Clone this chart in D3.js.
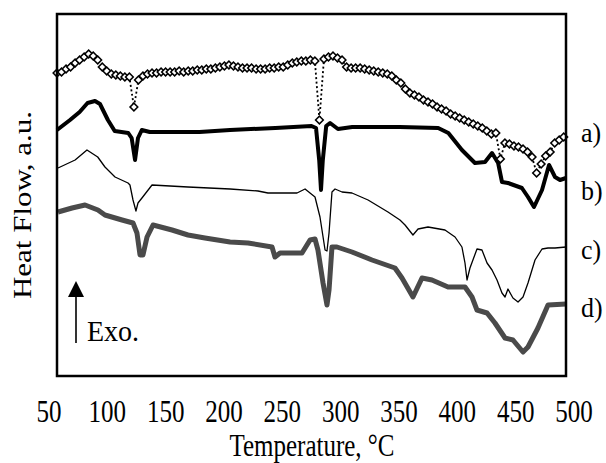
<!DOCTYPE html>
<html>
<head>
<meta charset="utf-8">
<script src="https://cdn.jsdelivr.net/npm/d3@7"></script>
<style>
  body { margin: 0; background: #fff; }
  svg { display: block; }
  text { font-family: "Liberation Serif", "Times New Roman", serif; fill: #000; }
</style>
</head>
<body>
<svg id="chart" width="606" height="463"></svg>
<script>
// a) sampled with markers every 4 degrees
const tempA = [50, 54, 58, 62, 66, 70, 74, 78, 82, 86, 90, 94, 98, 102, 106, 110, 114, 118, 122, 126,
  130, 134, 138, 142, 146, 150, 154, 158, 162, 166, 170, 174, 178, 182, 186, 190, 194, 198, 202, 206,
  210, 214, 218, 222, 226, 230, 234, 238, 242, 246, 250, 254, 258, 262, 266, 270, 274, 278, 282, 286,
  290, 294, 298, 302, 306, 310, 314, 318, 322, 326, 330, 334, 338, 342, 346, 350, 354, 358, 362, 366,
  370, 374, 378, 382, 386, 390, 394, 398, 402, 406, 410, 414, 418, 422, 426, 430, 434, 438, 442, 446,
  450, 454, 458, 462, 466, 470, 474, 478, 482, 486, 490, 494, 498];
const heatA = [303, 304, 307, 309, 313, 316, 319, 322, 320, 316, 309, 305, 302, 301, 300, 299, 299, 269, 296, 300,
  302, 303, 303, 304, 304, 304, 304, 305, 304, 305, 305, 306, 306, 307, 307, 308, 309, 310, 311, 310,
  309, 308, 308, 308, 307, 307, 307, 308, 308, 309, 309, 311, 313, 314, 315, 315, 316, 315, 256, 317,
  319, 320, 318, 316, 309, 308, 308, 308, 307, 306, 305, 304, 303, 302, 300, 296, 293, 287, 283, 281,
  279, 276, 274, 272, 269, 267, 265, 262, 260, 258, 256, 254, 252, 250, 248, 245, 242, 243, 217, 233,
  232, 230, 229, 227, 224, 219, 203, 212, 220, 224, 233, 236, 239];

const tempB = [50, 61.5, 70, 77, 83.6, 88, 95, 101, 113, 116, 119, 121.6, 125, 132, 176, 203, 243, 275, 279,
  281.8, 283.4, 285, 288, 291.4, 298.4, 311, 353, 387, 396, 408, 419.5, 428.4, 434.6, 440, 443.4, 448.7,
  461, 466.4, 471.7, 478.8, 485, 490.3, 494.7, 500];
const heatB = [246, 256, 264, 273, 275, 272, 256, 245, 243, 238, 216, 238, 246, 244, 244, 246, 248, 250, 248,
  216, 186, 216, 250, 253, 247, 249, 249, 248, 243, 226, 213, 214, 223, 213, 194, 193,
  188, 179, 169, 186, 211, 199, 196, 198];

const tempC = [50.9, 66, 76.5, 86, 92.4, 101.3, 112.8, 114.5, 117.2, 119.8, 121.6, 125.1, 134, 165.8, 203,
  227.7, 236.5, 262.2, 269.3, 278.1, 282.5, 287, 288.7, 290.5, 293.1, 295.8, 302, 310.8, 325, 342.6,
  353.2, 357.7, 364.7, 369.2, 378, 393, 401.9, 408, 410.7, 412.5, 415.1, 421.3, 425.7, 430.2, 434.6,
  439, 443.4, 446.1, 448.7, 453.1, 457.6, 462, 466.4, 472.6, 478.8, 484.1, 490.3, 500];
const heatC = [208, 216, 226, 219, 209, 199, 193, 191, 176, 165, 173, 178, 191, 189, 187,
  185, 183, 183, 187, 179, 159, 126, 125, 143, 184, 187, 184, 183, 176, 164,
  156, 151, 141, 147, 149, 146, 139, 129, 113, 96, 108, 127, 126, 113, 106,
  96, 83, 79, 87, 78, 74, 79, 93, 116, 127, 128, 128, 129];

const tempD = [50.9, 63.3, 74.8, 86.2, 92.4, 107.5, 117.2, 120.7, 123.4, 126, 129.6, 134.9, 151.7, 165.8,
  180.8, 203, 218.9, 240.1, 242.7, 247.2, 266.6, 273.7, 278.1, 280.7, 285.2, 288.7, 290.5, 293.1,
  297.5, 310.8, 328.5, 348.8, 355, 364.7, 372.7, 381.5, 395.7, 410.7, 416.9, 421.3, 430.2, 437.2,
  446.1, 453.1, 462, 466.4, 475.2, 484.1, 500];
const heatD = [164, 168, 171, 166, 161, 156, 153, 143, 121, 121, 139, 151, 146, 141,
  138, 134, 133, 129, 119, 123, 123, 136, 137, 126, 93, 71, 86, 129,
  129, 124, 116, 108, 98, 79, 98, 96, 89, 89, 79, 66, 63, 53,
  38, 36, 24, 29, 48, 71, 72];

const tickLabels = ["50", "100", "150", "200", "250", "300", "350", "400", "450", "500"];
const curveNames = ["a)", "b)", "c)", "d)"];
const curveNameY = [142, 200, 259, 317];

const svg = d3.select("#chart");

const margin = { top: 14, right: 40, bottom: 87, left: 57 };
const width = 606 - margin.left - margin.right;
const height = 463 - margin.top - margin.bottom;

const x = d3.scaleLinear().domain([50, 500]).range([margin.left, margin.left + width]);
const y = d3.scaleLinear().domain([0, 362]).range([margin.top + height, margin.top]);

// the original print has its lettering stretched vertically
const stretch = 1.28;

function toPoints(temps, heats) {
  return temps.map((t, i) => ({ t: t, v: heats[i] }));
}

const line = d3.line()
  .x(d => x(d.t))
  .y(d => y(d.v));

// d) grey trace
svg.append("path")
  .datum(toPoints(tempD, heatD))
  .attr("d", line)
  .attr("fill", "none")
  .attr("stroke", "#4a4a4a")
  .attr("stroke-width", 5)
  .attr("stroke-linejoin", "round");

// c) thin trace
svg.append("path")
  .datum(toPoints(tempC, heatC))
  .attr("d", line)
  .attr("fill", "none")
  .attr("stroke", "#000")
  .attr("stroke-width", 1.3)
  .attr("stroke-linejoin", "round");

// b) thick trace
svg.append("path")
  .datum(toPoints(tempB, heatB))
  .attr("d", line)
  .attr("fill", "none")
  .attr("stroke", "#000")
  .attr("stroke-width", 4)
  .attr("stroke-linejoin", "round");

// a) dotted line + open diamonds
const pointsA = toPoints(tempA, heatA);
svg.append("path")
  .datum(pointsA)
  .attr("d", line)
  .attr("fill", "none")
  .attr("stroke", "#000")
  .attr("stroke-width", 1.8)
  .attr("stroke-dasharray", "2,2.5");

svg.append("g")
  .selectAll("path")
  .data(pointsA)
  .enter()
  .append("path")
  .attr("d", d3.symbol().type(d3.symbolSquare).size(30))
  .attr("transform", d => `translate(${x(d.t)},${y(d.v)}) rotate(45)`)
  .attr("fill", "#fff")
  .attr("stroke", "#000")
  .attr("stroke-width", 1.5);

// plot frame
svg.append("rect")
  .attr("x", margin.left)
  .attr("y", margin.top)
  .attr("width", width)
  .attr("height", height)
  .attr("fill", "none")
  .attr("stroke", "#000")
  .attr("stroke-width", 2.5);

// tick labels (printed under the frame, slightly wider than it)
const xLabels = d3.scalePoint().domain(tickLabels).range([49, 574]);
svg.append("g")
  .attr("class", "x-axis")
  .selectAll("text")
  .data(tickLabels)
  .enter()
  .append("text")
  .attr("transform", d => `translate(${xLabels(d)},422) scale(1,${stretch})`)
  .attr("text-anchor", "middle")
  .style("font-size", "25px")
  .text(d => d);

svg.append("text")
  .attr("transform", `translate(312,456) scale(1,${stretch})`)
  .attr("text-anchor", "middle")
  .style("font-size", "25px")
  .text("Temperature, °C");

svg.append("text")
  .attr("transform", "translate(31,205) rotate(-90) scale(1.24,1)")
  .attr("text-anchor", "middle")
  .style("font-size", "25px")
  .text("Heat Flow, a.u.");

// curve names on the right
svg.append("g")
  .selectAll("text")
  .data(curveNames)
  .enter()
  .append("text")
  .attr("transform", (d, i) => `translate(581,${curveNameY[i]}) scale(1,1.08)`)
  .style("font-size", "26px")
  .text(d => d);

// Exo. arrow
svg.append("line")
  .attr("x1", 76).attr("y1", 343)
  .attr("x2", 76).attr("y2", 295)
  .attr("stroke", "#000")
  .attr("stroke-width", 1.6);
svg.append("path")
  .attr("d", "M68,297 L76,281 L84,297 Z")
  .attr("fill", "#000");
svg.append("text")
  .attr("transform", "translate(87,341) scale(1,1.08)")
  .style("font-size", "28px")
  .text("Exo.");
</script>
</body>
</html>
